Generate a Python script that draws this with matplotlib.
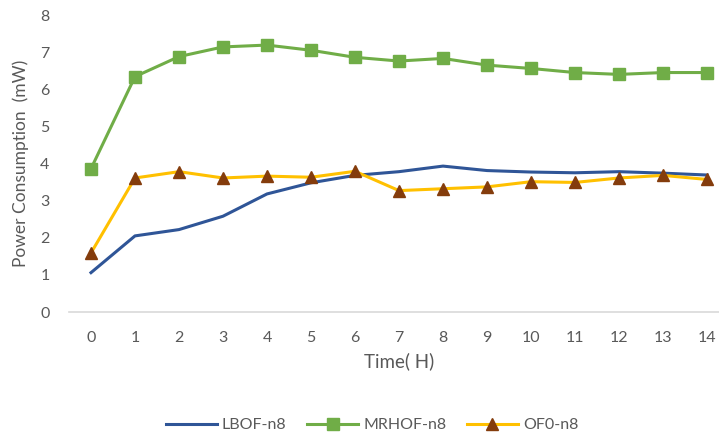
import matplotlib
matplotlib.use('Agg')
import matplotlib.pyplot as plt

plt.rcParams['font.family'] = ['Lato', 'DejaVu Sans']

hours = list(range(15))
lbof = [1.06, 2.05, 2.22, 2.58, 3.18, 3.48, 3.68, 3.78, 3.93, 3.81, 3.77, 3.75, 3.78, 3.74, 3.69]
mrhof = [3.86, 6.34, 6.88, 7.14, 7.19, 7.05, 6.86, 6.76, 6.83, 6.65, 6.56, 6.45, 6.40, 6.45, 6.45]
of0 = [1.59, 3.61, 3.78, 3.61, 3.66, 3.63, 3.79, 3.27, 3.32, 3.37, 3.51, 3.49, 3.61, 3.68, 3.57]

fig = plt.figure(figsize=(7.19, 4.36), dpi=100)
ax = fig.add_axes([69 / 719, 124 / 436, 660 / 719, 297 / 436])

ax.plot(hours, lbof, color='#2F5597', lw=2.2, label='LBOF-n8')
ax.plot(hours, mrhof, color='#70AD47', lw=2.2, marker='s', ms=8.5,
        mfc='#70AD47', mec='#70AD47', label='MRHOF-n8')
ax.plot(hours, of0, color='#FFC000', lw=2.2, marker='^', ms=9,
        mfc='#843C0C', mec='#843C0C', label='OF0-n8')

ax.set_xlim(-0.5, 14.5)
ax.set_ylim(0, 8)
ax.set_xticks(hours)
ax.set_yticks(range(9))
ax.tick_params(length=0, labelsize=11.5, colors='#595959')
ax.tick_params(axis='x', pad=14)
ax.tick_params(axis='y', pad=14)
for s in ['top', 'right', 'left']:
    ax.spines[s].set_visible(False)
ax.spines['bottom'].set_color('#D9D9D9')
ax.spines['bottom'].set_linewidth(1.2)

ax.set_xlabel('Time( H)', fontsize=13.5, color='#595959', labelpad=5)
ax.set_ylabel('Power Consumption  (mW)', fontsize=12.5, color='#595959', labelpad=8)

fig.legend(loc='center', bbox_to_anchor=(372 / 719, 1 - 425 / 436), ncol=3,
           frameon=False, fontsize=11.5, labelcolor='#595959',
           handlelength=3.2, columnspacing=1.3, handletextpad=0.3)

fig.savefig('out.png', dpi=100)
